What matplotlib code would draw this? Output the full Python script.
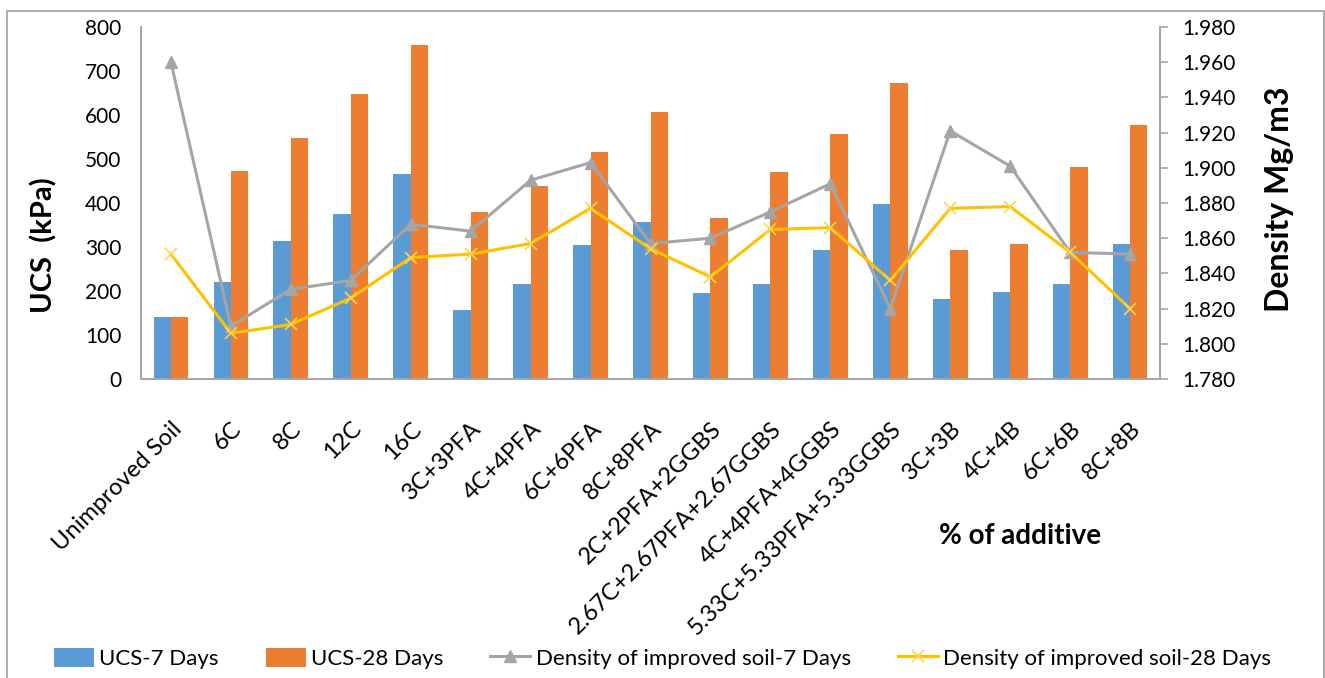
import numpy as np
import matplotlib.pyplot as plt
from matplotlib.patches import Rectangle

plt.rcParams['font.family'] = ['Lato', 'DejaVu Sans']

categories = ['Unimproved Soil', '6C', '8C', '12C', '16C', '3C+3PFA', '4C+4PFA',
              '6C+6PFA', '8C+8PFA', '2C+2PFA+2GGBS', '2.67C+2.67PFA+2.67GGBS',
              '4C+4PFA+4GGBS', '5.33C+5.33PFA+5.33GGBS', '3C+3B', '4C+4B',
              '6C+6B', '8C+8B']
ucs_7 = [140, 220, 313, 376, 466, 157, 217, 305, 357, 195, 217, 294, 398,
         182, 198, 215, 307]
ucs_28 = [140, 474, 548, 648, 760, 379, 439, 517, 608, 367, 470, 558, 673,
          294, 307, 482, 577]
dens_7 = [1.960, 1.810, 1.831, 1.836, 1.868, 1.864, 1.893, 1.903, 1.857,
          1.860, 1.875, 1.891, 1.820, 1.921, 1.901, 1.852, 1.851]
dens_28 = [1.851, 1.806, 1.811, 1.826, 1.849, 1.851, 1.857, 1.877, 1.854,
           1.838, 1.865, 1.866, 1.836, 1.877, 1.878, 1.852, 1.820]

blue = '#5b9bd5'
orange = '#ed7d31'
grey = '#a5a5a5'
yellow = '#ffc000'
spine_c = '#a6a6a6'

fig = plt.figure(figsize=(13.25, 6.78), dpi=100)
ax = fig.add_axes([0.1064, 0.441, 0.7691, 0.519])
ax2 = ax.twinx()

x = np.arange(len(categories))
w = 0.29
b1 = ax.bar(x - w / 2, ucs_7, w, color=blue, label='UCS-7 Days')
b2 = ax.bar(x + w / 2, ucs_28, w, color=orange, label='UCS-28 Days')
l1, = ax2.plot(x, dens_7, color=grey, lw=2.2, marker='^', ms=8,
               label='Density of improved soil-7 Days')
l2, = ax2.plot(x, dens_28, color=yellow, lw=2.2, marker='x', ms=8,
               mec='#ffd34d', mew=1.2, label='Density of improved soil-28 Days')

ax.set_xlim(-0.5, len(categories) - 0.5)
ax.set_ylim(0, 800)
ax.set_yticks(np.arange(0, 801, 100))
ax2.set_ylim(1.78, 1.98)
ax2.set_yticks(np.arange(1.78, 1.981, 0.02))
ax2.set_yticklabels(['%.3f' % v for v in np.arange(1.78, 1.981, 0.02)])

ax.set_xticks(x)
ax.set_xticklabels(categories, rotation=45, ha='right', va='top',
                   rotation_mode='anchor', fontsize=17)
ax.tick_params(axis='x', length=0, pad=28)
ax.tick_params(axis='y', length=0, pad=14, labelsize=15)
ax2.tick_params(axis='y', length=6, width=1.2, color=spine_c, pad=10,
                labelsize=15)

for a in (ax, ax2):
    a.spines['top'].set_visible(False)
    for s in ('left', 'right', 'bottom'):
        a.spines[s].set_color(spine_c)
        a.spines[s].set_linewidth(1.4)

ax.set_ylabel('UCS  (kPa)', fontsize=21, fontweight='bold')
ax.yaxis.set_label_coords(-0.082, 0.38)
ax2.set_ylabel('Density Mg/m3', fontsize=23, fontweight='bold')
ax2.yaxis.set_label_coords(1.103, 0.51)

fig.text(0.77, 0.21, '% of additive', fontsize=20, fontweight='bold',
         ha='center', va='center')

fig.legend([b1, b2, l1, l2],
           [h.get_label() for h in (b1, b2, l1, l2)],
           loc='center', bbox_to_anchor=(0.5, 0.029), ncol=4, frameon=False,
           fontsize=16, handlelength=1.8, handleheight=1.0, columnspacing=2.1,
           handletextpad=0.25)

fig.patches.append(Rectangle((7 / 1325, -0.01), 1317 / 1325, 0.994,
                             transform=fig.transFigure, fill=False,
                             edgecolor='#a0a0a0', lw=1.2))

plt.savefig('out.png', dpi=100)
